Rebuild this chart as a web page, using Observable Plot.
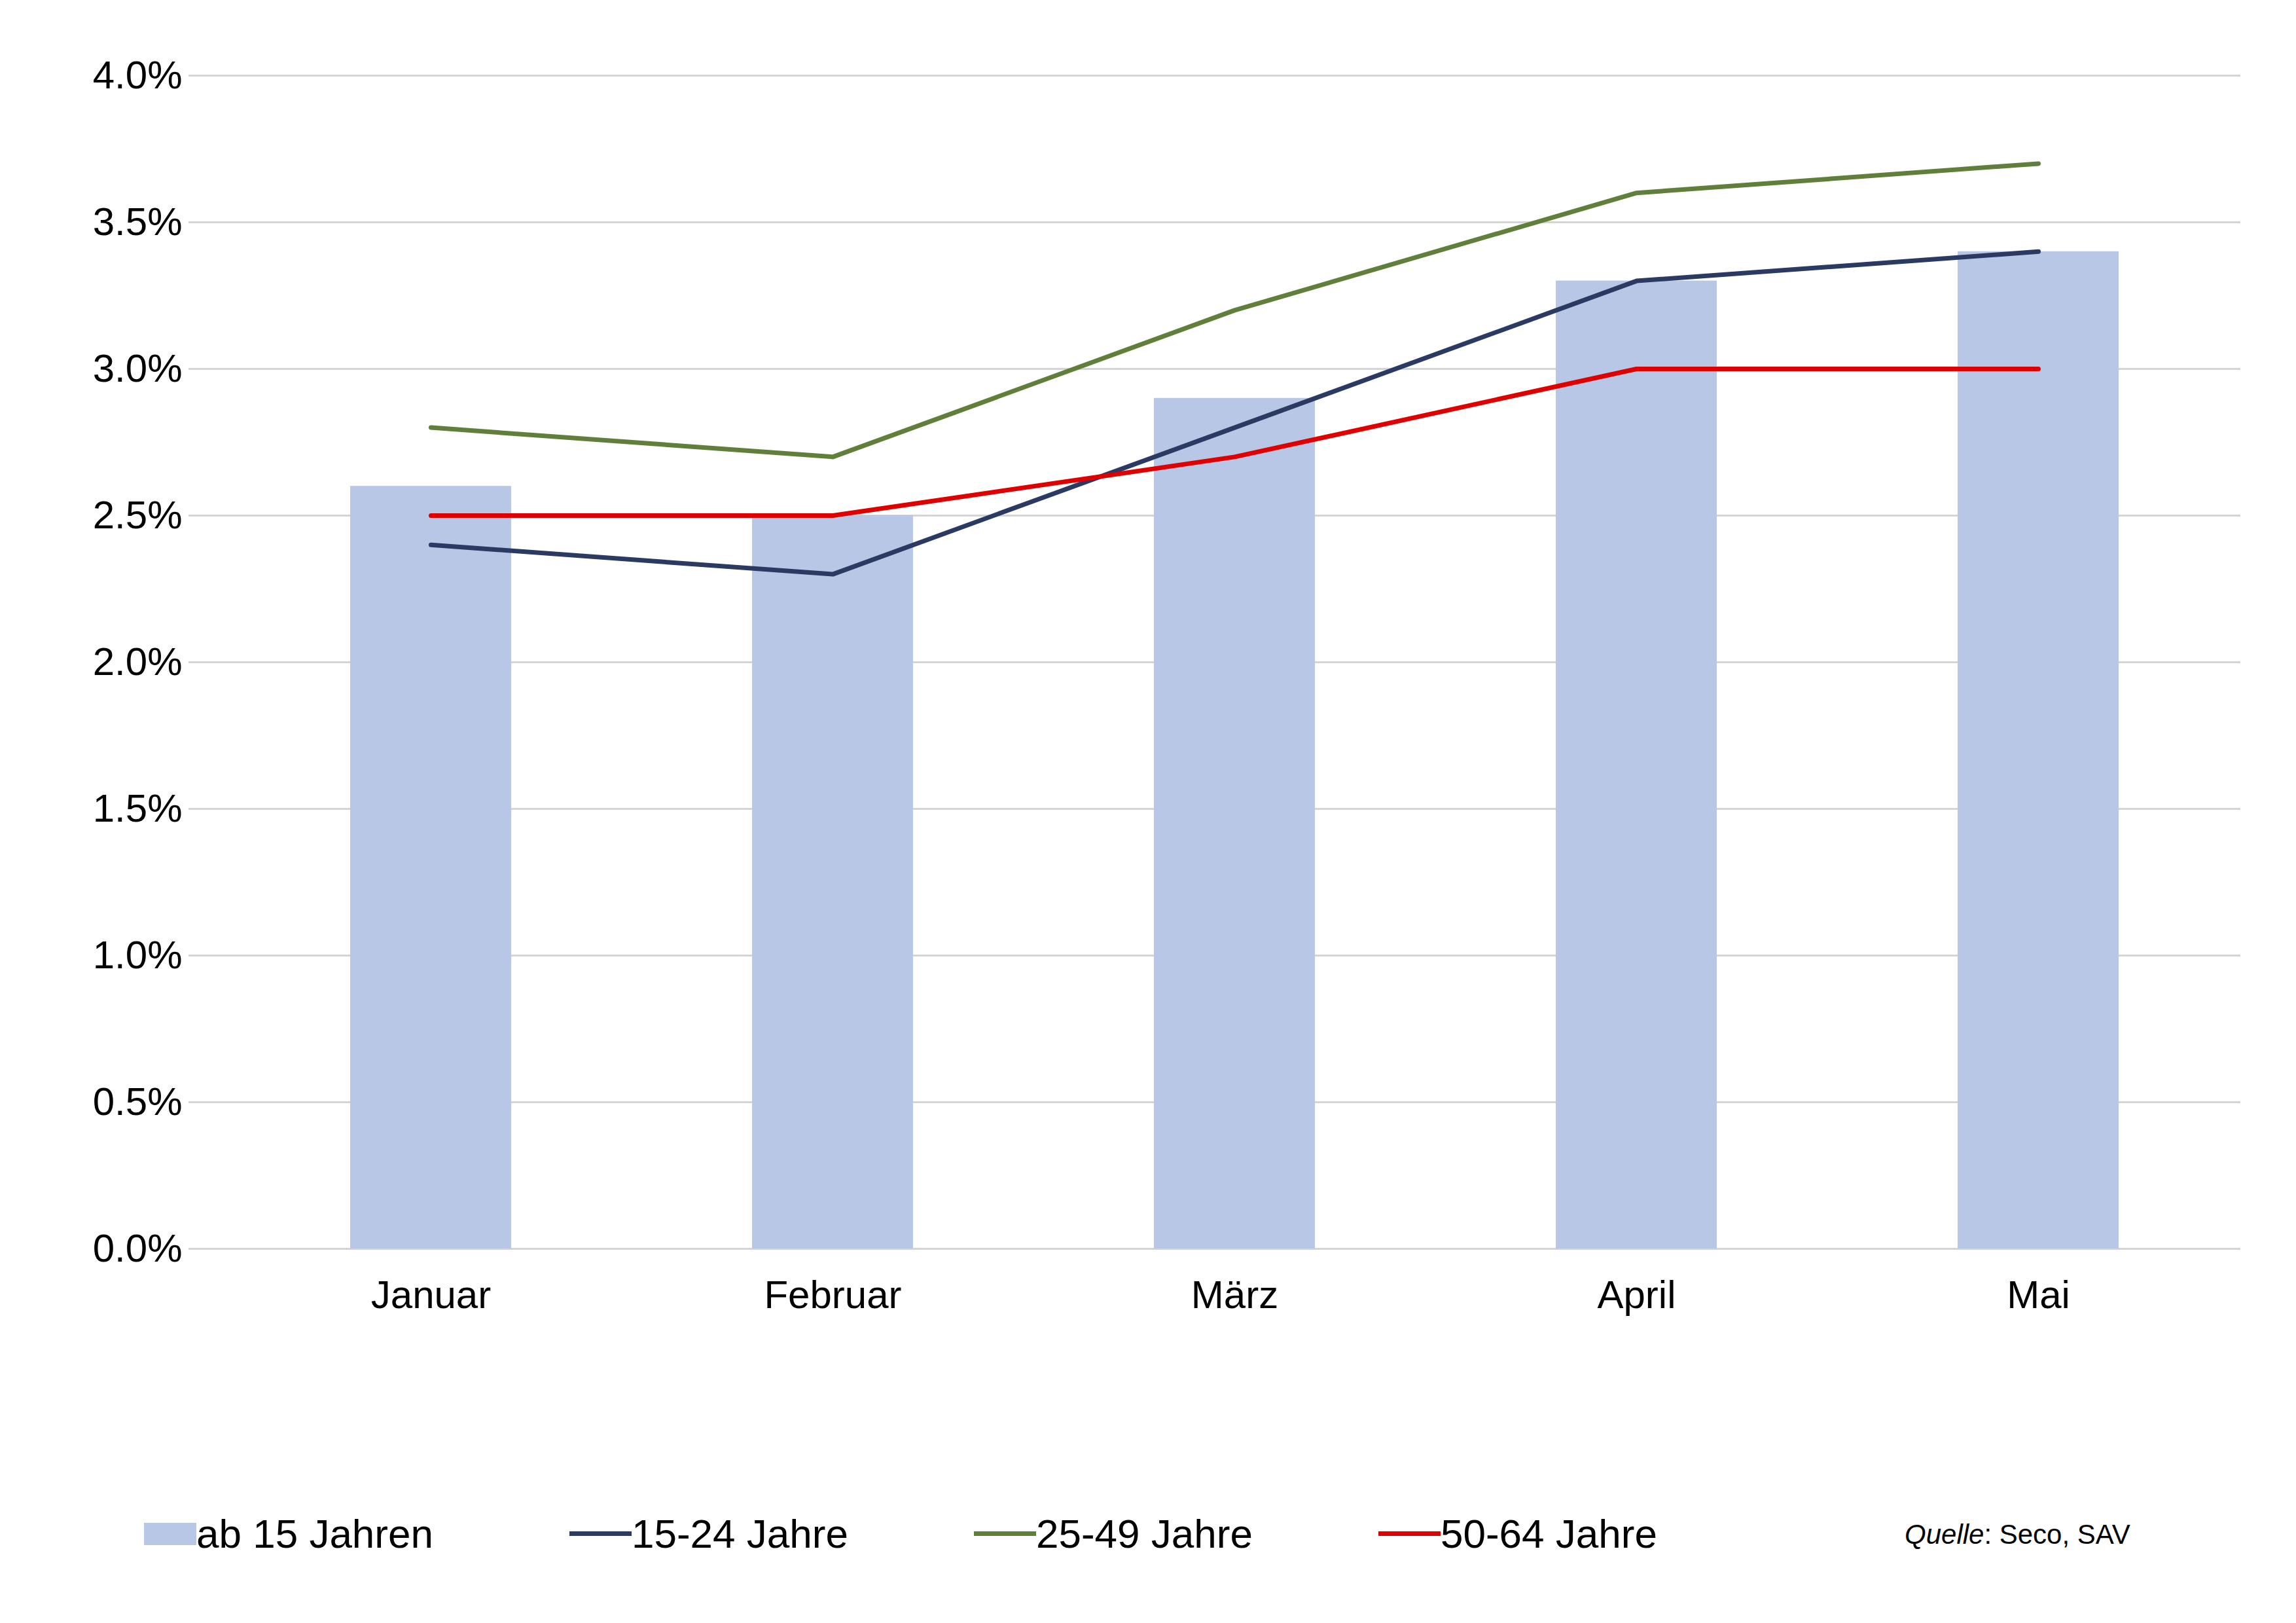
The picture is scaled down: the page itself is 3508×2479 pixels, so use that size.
<!DOCTYPE html>
<html><head><meta charset="utf-8">
<script src="https://cdn.jsdelivr.net/npm/d3@7"></script>
<script src="https://cdn.jsdelivr.net/npm/@observablehq/plot@0.6"></script>
<style>
body{margin:0;background:#fff;font-family:"Liberation Sans",Arial,sans-serif;width:3508px;height:2479px;position:relative;overflow:hidden}
#legend{position:absolute;top:2307px;left:220px;display:flex;align-items:center;font-size:62px;color:#000}
.item{display:flex;align-items:center;margin-right:0}
.sw{display:inline-block}
#src{position:absolute;top:2320px;left:2910px;font-size:42px}
</style></head><body>
<div id="chart"></div>
<div id="legend"></div>
<div id="src"><i>Quelle</i>: Seco, SAV</div>
<script>
const months=["Januar","Februar","März","April","Mai"];
const ab15=[2.6,2.5,2.9,3.3,3.4];
const s1524=[2.4,2.3,2.8,3.3,3.4];
const s2549=[2.8,2.7,3.2,3.6,3.7];
const s5064=[2.5,2.5,2.7,3.0,3.0];
const yTicks=[0,0.5,1,1.5,2,2.5,3,3.5,4];
const series=[["15-24 Jahre",s1524,"#2b3a62"],["25-49 Jahre",s2549,"#5f7f3a"],["50-64 Jahre",s5064,"#e00000"]];
const bars=months.map((m,i)=>({m,v:ab15[i]}));
const lines=series.flatMap(([name,vals])=>months.map((m,i)=>({name,m,v:vals[i]})));
const chart=Plot.plot({
 width:3508,height:2100,marginTop:115,marginBottom:193,marginLeft:288,marginRight:85,
 style:{fontFamily:"Liberation Sans, Arial, sans-serif",fontSize:"60px",color:"#000"},
 x:{domain:months,paddingInner:0.6,paddingOuter:0.3,range:[349,3423],label:null,tickSize:0,tickPadding:48},
 y:{domain:[0,4],ticks:yTicks,label:null,tickSize:0,tickPadding:10,tickFormat:d=>d.toFixed(1)+"%"},
 color:{domain:series.map(s=>s[0]),range:series.map(s=>s[2])},
 marks:[
  Plot.gridY(yTicks,{stroke:"#d4d4d4",strokeOpacity:1,strokeWidth:3}),
  Plot.barY(bars,{x:"m",y:"v",fill:"#b7c7e5"}),
  Plot.lineY(lines,{x:"m",y:"v",stroke:"name",z:"name",strokeWidth:7})
 ]
});
document.getElementById("chart").appendChild(chart);
const lg=document.getElementById("legend");
let h='<div class="item" style="width:650px"><span class="sw" style="width:80px;height:34px;background:#b7c7e5"></span>ab 15 Jahren</div>';
series.forEach(([n,,c],i)=>{h+=`<div class="item" style="width:${i<2?618:500}px"><span class="sw" style="width:95px;height:7px;background:${c}"></span>${n}</div>`});
lg.innerHTML=h;
</script></body></html>
